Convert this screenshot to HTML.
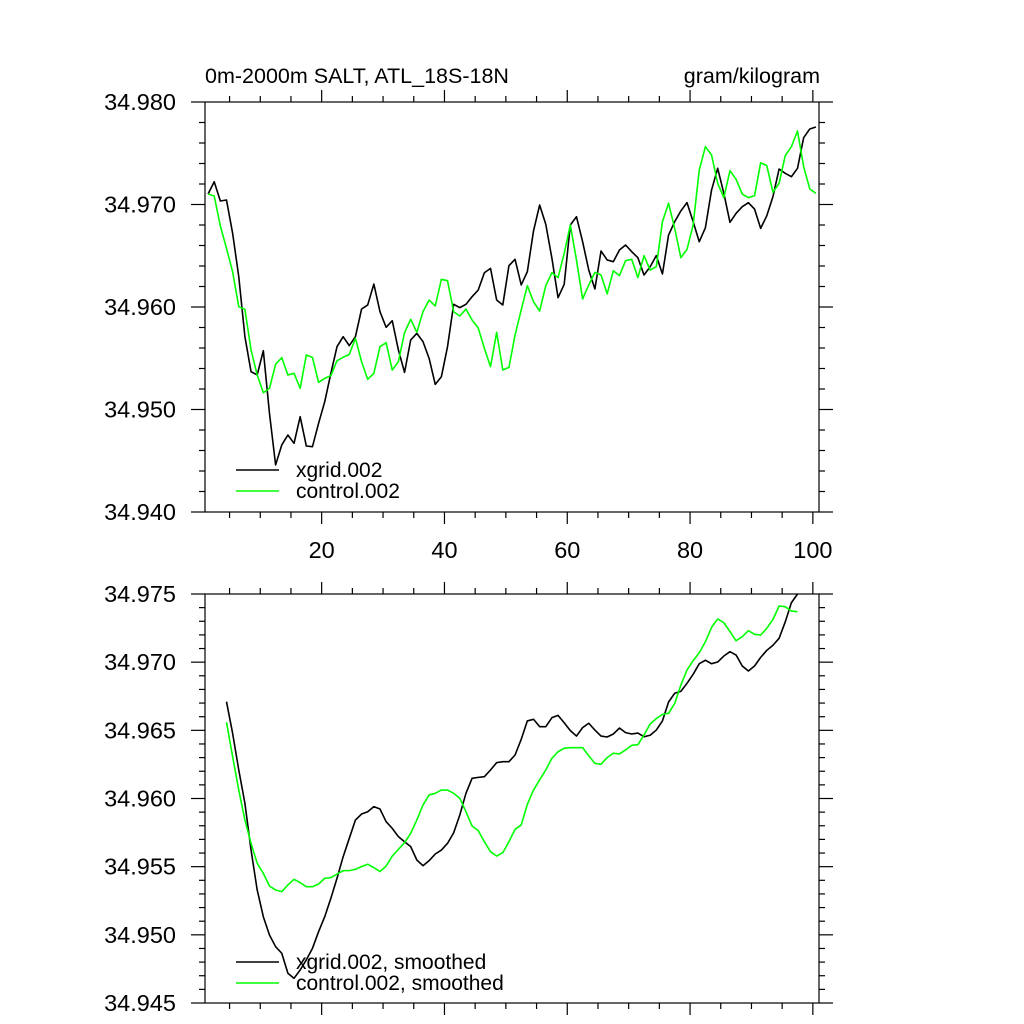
<!DOCTYPE html>
<html><head><meta charset="utf-8"><style>
html,body{margin:0;padding:0;background:#fff;}
svg{display:block;font-family:"Liberation Sans",sans-serif;}
</style></head><body>
<svg id="chart" width="1024" height="1024" viewBox="0 0 1024 1024" xmlns="http://www.w3.org/2000/svg">
<text x="205" y="83" font-size="21.5">0m-2000m SALT, ATL_18S-18N</text>
<text x="820" y="83" font-size="21.5" text-anchor="end">gram/kilogram</text>
</svg>
<script>
const xTickLabels = [20, 40, 60, 80, 100];
const topYTicks = [34.940, 34.950, 34.960, 34.970, 34.980];
const botYTicks = [34.945, 34.950, 34.955, 34.960, 34.965, 34.970, 34.975];
const xgridRaw = [34.97102,34.97222,34.97034,34.97044,34.96719,34.96296,34.95710,34.95369,34.95337,34.95574,34.94963,34.94459,34.94654,34.94751,34.94670,34.94930,34.94644,34.94637,34.94865,34.95076,34.95353,34.95613,34.95710,34.95623,34.95710,34.95980,34.96020,34.96224,34.95954,34.95802,34.95866,34.95580,34.95362,34.95678,34.95743,34.95662,34.95499,34.95245,34.95320,34.95613,34.96026,34.95994,34.96026,34.96101,34.96166,34.96334,34.96377,34.96068,34.96020,34.96403,34.96465,34.96215,34.96345,34.96741,34.96995,34.96807,34.96475,34.96091,34.96221,34.96800,34.96881,34.96637,34.96361,34.96176,34.96546,34.96459,34.96442,34.96556,34.96605,34.96540,34.96481,34.96312,34.96393,34.96501,34.96322,34.96702,34.96833,34.96937,34.97018,34.96833,34.96637,34.96774,34.97141,34.97353,34.97109,34.96826,34.96914,34.96979,34.97018,34.96956,34.96767,34.96891,34.97077,34.97346,34.97304,34.97271,34.97353,34.97652,34.97737,34.97756];
const controlRaw = [34.97102,34.97083,34.96790,34.96572,34.96344,34.96003,34.95977,34.95580,34.95337,34.95164,34.95206,34.95441,34.95506,34.95337,34.95353,34.95206,34.95532,34.95509,34.95265,34.95304,34.95330,34.95476,34.95509,34.95538,34.95694,34.95467,34.95294,34.95353,34.95613,34.95652,34.95385,34.95467,34.95750,34.95880,34.95753,34.95954,34.96068,34.96010,34.96270,34.96257,34.95954,34.95912,34.95980,34.95873,34.95795,34.95597,34.95418,34.95753,34.95385,34.95411,34.95727,34.95971,34.96208,34.96052,34.95961,34.96208,34.96335,34.96286,34.96524,34.96800,34.96459,34.96078,34.96215,34.96338,34.96312,34.96127,34.96354,34.96306,34.96452,34.96465,34.96286,34.96501,34.96361,34.96393,34.96833,34.97012,34.96767,34.96481,34.96562,34.96800,34.97337,34.97564,34.97483,34.97207,34.97067,34.97330,34.97246,34.97102,34.97067,34.97086,34.97408,34.97379,34.97119,34.97207,34.97476,34.97564,34.97717,34.97369,34.97151,34.97109];
const xgridSmooth = [34.96710,34.96478,34.96209,34.95965,34.95622,34.95329,34.95133,34.94999,34.94913,34.94865,34.94718,34.94681,34.94742,34.94816,34.94901,34.95023,34.95133,34.95268,34.95415,34.95573,34.95708,34.95842,34.95886,34.95903,34.95940,34.95923,34.95830,34.95781,34.95720,34.95683,34.95647,34.95549,34.95507,34.95544,34.95593,34.95622,34.95671,34.95749,34.95879,34.96038,34.96148,34.96155,34.96160,34.96209,34.96263,34.96270,34.96270,34.96319,34.96434,34.96569,34.96581,34.96527,34.96527,34.96593,34.96610,34.96556,34.96498,34.96458,34.96520,34.96552,34.96502,34.96458,34.96451,34.96473,34.96517,34.96483,34.96473,34.96480,34.96453,34.96464,34.96502,34.96569,34.96708,34.96772,34.96786,34.96845,34.96911,34.96989,34.97014,34.96989,34.97001,34.97045,34.97077,34.97052,34.96972,34.96935,34.96972,34.97035,34.97087,34.97124,34.97175,34.97295,34.97436,34.97500];
const controlSmooth = [34.96559,34.96307,34.96062,34.95842,34.95671,34.95525,34.95451,34.95358,34.95329,34.95317,34.95366,34.95407,34.95383,34.95353,34.95353,34.95373,34.95415,34.95419,34.95446,34.95471,34.95471,34.95481,34.95500,34.95518,34.95493,34.95464,34.95505,34.95578,34.95627,34.95676,34.95745,34.95842,34.95952,34.96026,34.96038,34.96062,34.96062,34.96038,34.96002,34.95903,34.95798,34.95764,34.95683,34.95610,34.95578,34.95603,34.95683,34.95774,34.95806,34.95957,34.96062,34.96136,34.96209,34.96295,34.96343,34.96368,34.96373,34.96373,34.96373,34.96314,34.96258,34.96251,34.96300,34.96332,34.96327,34.96356,34.96390,34.96395,34.96466,34.96547,34.96586,34.96617,34.96625,34.96698,34.96832,34.96942,34.97011,34.97069,34.97150,34.97255,34.97317,34.97290,34.97224,34.97157,34.97187,34.97231,34.97204,34.97199,34.97248,34.97314,34.97412,34.97407,34.97375,34.97370];
const rawStartYear = 1.5;
const smoothStartYear = 4.5;

const NS = "http://www.w3.org/2000/svg";
const svg = document.getElementById("chart");
const L = 205, R = 819, XMIN = 1, XMAX = 101;
function xs(v){ return L + (v - XMIN) / (XMAX - XMIN) * (R - L); }
function mkY(top, bot, vmin, vmax){ return v => bot - (v - vmin) / (vmax - vmin) * (bot - top); }
const yTop = mkY(102, 512, 34.940, 34.980);
const yBot = mkY(594, 1003, 34.945, 34.975);

function el(tag, attrs, parent){
  const e = document.createElementNS(NS, tag);
  for (const k in attrs) e.setAttribute(k, attrs[k]);
  (parent || svg).appendChild(e);
  return e;
}

function panel(name, top, bot, yScale, yTicks, minorStep, showXLabels){
  const g = el("g", {});
  
  
  const ax = el("g", {stroke:"#000", "stroke-width":"1.2", fill:"none"}, g);
  
  
  el("rect", {x:L, y:top, width:R-L, height:bot-top}, ax);
  for (let v = 5; v <= 100; v += 5){
    const major = v % 20 === 0;
    const len = major ? 12 : 6;
    const x = xs(v);
    el("line", {x1:x, y1:bot, x2:x, y2:bot+len}, ax);
    el("line", {x1:x, y1:top, x2:x, y2:top-len}, ax);
  }
  const vmin = yTicks[0], vmax = yTicks[yTicks.length-1];
  const n = Math.round((vmax - vmin) / minorStep);
  for (let i = 0; i <= n; i++){
    const v = vmin + i * minorStep;
    const y = yScale(v);
    const major = yTicks.some(t => Math.abs(t - v) < 1e-7);
    const len = major ? 14 : 6;
    el("line", {x1:L, y1:y, x2:L-len, y2:y}, ax);
    el("line", {x1:R, y1:y, x2:R+len, y2:y}, ax);
  }
  yTicks.forEach(t => {
    const tx = el("text", {x:176, y:yScale(t)+8, "font-size":"23.5", "text-anchor":"end", fill:"#000"}, g);
    
    
    tx.textContent = t.toFixed(3);
  });
  if (showXLabels){
    xTickLabels.forEach(t => {
      const tx = el("text", {x:xs(t), y:bot+46, "font-size":"23.5", "text-anchor":"middle", fill:"#000"}, g);
      
      
      tx.textContent = t;
    });
  }
  return g;
}

function series(g, vals, start, yScale, color, name){
  const pts = vals.map((v,i) => xs(start + i).toFixed(2) + "," + yScale(v).toFixed(2)).join(" ");
  const p = el("polyline", {points:pts, fill:"none", stroke:color, "stroke-width":"1.6", "stroke-linejoin":"round"}, g);
  
  
}

function legend(g, items, y0){
  items.forEach((it, k) => {
    const y = y0 + k * 21;
    const ln = el("line", {x1:236, y1:y, x2:279, y2:y, stroke:it[1], "stroke-width":"1.6"}, g);
    
    
    const tx = el("text", {x:296, y:y+7, "font-size":"21", fill:"#000"}, g);
    
    
    tx.textContent = it[0];
  });
}

const g1 = panel("top-panel", 102, 512, yTop, topYTicks, 0.002, true);
series(g1, xgridRaw, rawStartYear, yTop, "#000", "xgrid-line");
series(g1, controlRaw, rawStartYear, yTop, "#00ff00", "control-line");
legend(g1, [["xgrid.002","#000"],["control.002","#00ff00"]], 470);

const g2 = panel("bottom-panel", 594, 1003, yBot, botYTicks, 0.001, false);
series(g2, xgridSmooth, smoothStartYear, yBot, "#000", "xgrid-smoothed-line");
series(g2, controlSmooth, smoothStartYear, yBot, "#00ff00", "control-smoothed-line");
legend(g2, [["xgrid.002, smoothed","#000"],["control.002, smoothed","#00ff00"]], 962);
</script>
</body></html>
